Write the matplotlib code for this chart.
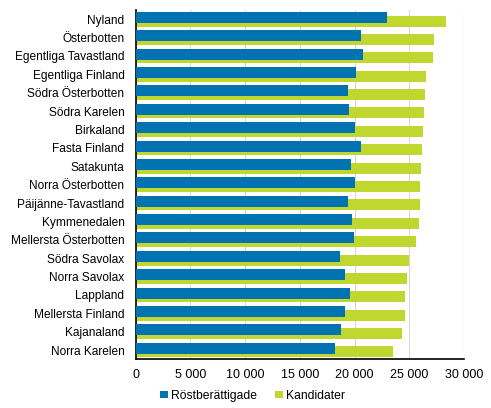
import numpy as np
import matplotlib
matplotlib.use('Agg')
import matplotlib.pyplot as plt
from matplotlib.ticker import FuncFormatter

plt.rcParams['font.family'] = ['Liberation Sans', 'DejaVu Sans']

regions = ['Nyland', 'Österbotten', 'Egentliga Tavastland', 'Egentliga Finland',
           'Södra Österbotten', 'Södra Karelen', 'Birkaland', 'Fasta Finland',
           'Satakunta', 'Norra Österbotten', 'Päijänne-Tavastland', 'Kymmenedalen',
           'Mellersta Österbotten', 'Södra Savolax', 'Norra Savolax', 'Lappland',
           'Mellersta Finland', 'Kajanaland', 'Norra Karelen']
rostberattigade = [22920, 20550, 20730, 20100, 19370, 19460, 20010, 20550, 19640, 20010,
                   19370, 19730, 19920, 18640, 19100, 19550, 19100, 18730, 18180]
kandidater = [28300, 27210, 27120, 26480, 26390, 26300, 26210, 26120, 26030, 25930,
              25930, 25840, 25570, 24930, 24750, 24570, 24570, 24290, 23470]

blue = '#0073B0'
green = '#C0D72F'

fig = plt.figure(figsize=(4.91, 4.08), dpi=100)
ax = fig.add_axes([0.276, 0.1194, 0.6696, 0.856])

y = np.arange(len(regions))
h = 0.6
ax.barh(y + 0.1, kandidater, height=h, color=green, label='Kandidater', zorder=2)
ax.barh(y - 0.1, rostberattigade, height=h, color=blue, label='Röstberättigade', zorder=3)

ax.set_ylim(len(regions) - 0.5, -0.5)
ax.set_yticks(y)
ax.set_yticklabels(regions, fontsize=8.6)
ax.set_xlim(0, 30000)
ax.set_xticks(np.arange(0, 30001, 5000))
ax.xaxis.set_major_formatter(FuncFormatter(lambda v, p: f'{int(v):,}'.replace(',', ' ')))
ax.tick_params(axis='x', length=0, pad=7, labelsize=9)
ax.tick_params(axis='y', length=0, pad=8)

ax.grid(axis='x', color='#D9D9D9', linewidth=0.8, zorder=0)
ax.set_axisbelow(True)
for s in ['top', 'right']:
    ax.spines[s].set_visible(False)
ax.spines['left'].set_linewidth(1.2)
ax.spines['bottom'].set_linewidth(1.2)

handles, labels = ax.get_legend_handles_labels()
fig.legend(handles[::-1], labels[::-1], loc='center', bbox_to_anchor=(0.515, 0.03),
           ncol=2, frameon=False, fontsize=8.7, handlelength=0.6, handleheight=0.6,
           handletextpad=0.3, columnspacing=1.5)

fig.savefig('out.png', dpi=100)
